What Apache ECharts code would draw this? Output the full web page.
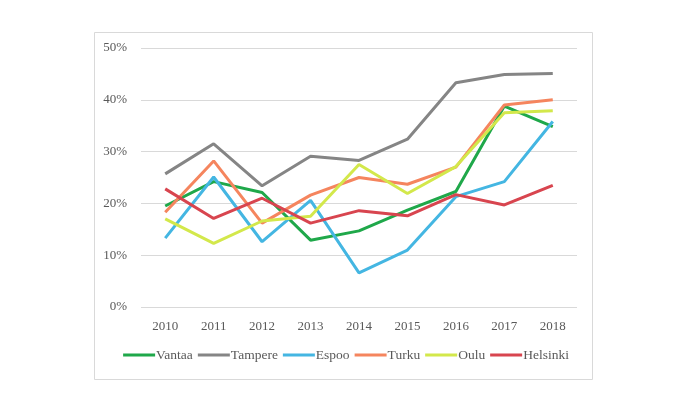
<!DOCTYPE html>
<html>
<head>
<meta charset="utf-8">
<script src="https://cdn.jsdelivr.net/npm/echarts@6/dist/echarts.min.js"></script>
<style>
    html,body{margin:0;padding:0;background:#fff;}
    #chart{width:692px;height:398px;}
</style>
</head>
<body>
<div id="chart"></div>
<script>
// 年份
var years = ['2010','2011','2012','2013','2014','2015','2016','2017','2018'];

// 各城市数据 (%)
var vantaa   = [19.5, 24.2, 22.1, 12.9, 14.7, 18.7, 22.3, 38.8, 34.8];
var tampere  = [25.7, 31.5, 23.4, 29.1, 28.3, 32.4, 43.3, 44.9, 45.1];
var espoo    = [13.3, 25.1, 12.6, 20.6, 6.6, 11.0, 21.3, 24.2, 35.8];
var turku    = [18.3, 28.2, 16.2, 21.6, 25.0, 23.7, 27.0, 39.0, 40.0];
var oulu     = [17.0, 12.3, 16.6, 17.5, 27.5, 21.9, 27.1, 37.5, 37.9];
var helsinki = [22.8, 17.1, 21.0, 16.2, 18.6, 17.6, 21.7, 19.7, 23.5];

var cityNames = ['Vantaa','Tampere','Espoo','Turku','Oulu','Helsinki'];
var cityData = [vantaa, tampere, espoo, turku, oulu, helsinki];
var colors = ['#1fa84a','#858585','#44b6e2','#f5855e','#d3e84b','#d8454f'];

var font = 'Liberation Serif';
var labelColor = '#595959';

var series = [];
cityNames.forEach(function (name, i) {
    series.push({
        name: name,
        type: 'line',
        data: cityData[i],
        symbol: 'none',
        smooth: false,
        lineStyle: {width: 3, color: colors[i]},
        itemStyle: {color: colors[i]}
    });
});

var chart = echarts.init(document.getElementById('chart'), null, {renderer: 'canvas'});
var option = {
    animation: false,
    backgroundColor: '#fff',
    color: colors,
    graphic: [{
        type: 'rect',
        shape: {x: 94.5, y: 32.5, width: 498, height: 347},
        style: {fill: 'none', stroke: '#d9d9d9', lineWidth: 1},
        silent: true,
        z: -1
    }],
    grid: {left: 141, right: 115, top: 48, bottom: 91},
    legend: {
        data: cityNames,
        bottom: 31,
        left: 'center',
        itemWidth: 32,
        itemHeight: 3,
        itemGap: 5,
        icon: 'rect',
        textStyle: {fontFamily: font, fontSize: 13.5, color: labelColor, padding: [0, 0, 0, -4]}
    },
    xAxis: {
        type: 'category',
        data: years,
        boundaryGap: true,
        axisLine: {show: false},
        axisTick: {show: false},
        axisLabel: {fontFamily: font, fontSize: 13, color: labelColor, margin: 13}
    },
    yAxis: {
        type: 'value',
        min: 0,
        max: 50,
        interval: 10,
        axisLine: {show: false},
        axisTick: {show: false},
        splitLine: {lineStyle: {color: '#d9d9d9', width: 1}},
        axisLabel: {
            fontFamily: font, fontSize: 13, color: labelColor, margin: 14,
            formatter: function (v) { return v + '%'; }
        }
    },
    series: series
};
chart.setOption(option);
</script>
</body>
</html>
